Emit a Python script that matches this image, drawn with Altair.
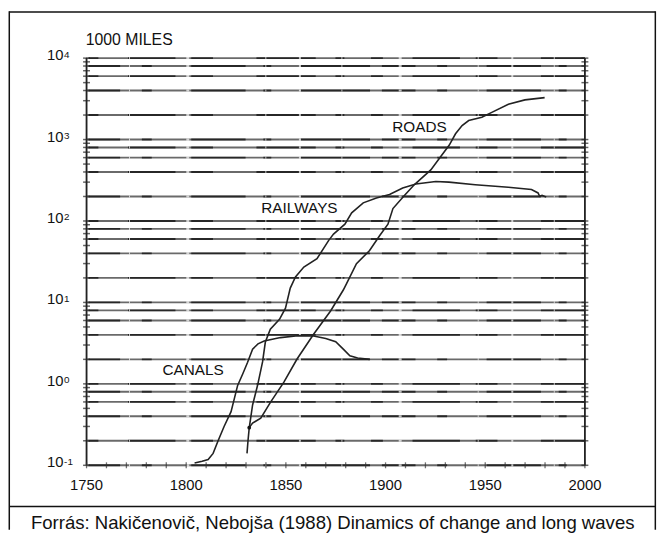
import altair as alt
import pandas as pd

# ---------------- data ----------------
canal_years = [1804.2, 1808, 1811, 1813.5, 1815.9, 1819, 1822.5, 1825.8, 1828.5, 1830.8,
               1833.3, 1836, 1839.1, 1847.3, 1856, 1863.9, 1870, 1875, 1878.8, 1882.1,
               1886, 1892]
canal_vals = [0.107, 0.112, 0.118, 0.14, 0.197, 0.3, 0.456, 0.957, 1.35, 1.84,
              2.67, 3.1, 3.36, 3.7, 3.9, 3.87, 3.6, 3.3, 2.67, 2.21,
              2.08, 2.0]

rail_years = [1830.5, 1831.0, 1831.6, 1833.3, 1835.8, 1838.3, 1839.7, 1842.2, 1846.8, 1849.8,
              1852.2, 1854.8, 1859, 1865.6, 1871.4, 1873.9, 1879.6, 1883, 1888.8, 1895.4,
              1902, 1908.6, 1915.2, 1925.2, 1931.8, 1945, 1961.6, 1973.2, 1976.5, 1977.3,
              1978.5, 1980.6]
rail_vals = [0.14, 0.2, 0.286, 0.55, 0.96, 1.86, 3.26, 4.7, 6.2, 8.5,
             15, 20.6, 27.2, 34.4, 57.4, 69, 91.5, 126, 167, 192,
             211, 254, 284, 306, 300, 279, 259, 243, 221, 201,
             206, 197]

road_years = [1831.6, 1833.3, 1837.4, 1842.4, 1849, 1855.6, 1863.9, 1872.5, 1878.8, 1880.5,
              1885.4, 1892, 1897, 1901.2, 1903.7, 1909, 1914.5, 1922.7, 1927.6, 1931.9,
              1935.1, 1938.4, 1941.7, 1948.3, 1953.3, 1961.6, 1969.9, 1979.8]
road_vals = [0.29, 0.33, 0.38, 0.6, 1.05, 2.02, 4.06, 7.9, 14.2, 17.1,
             29.9, 43.4, 65.9, 91.5, 142, 200, 280, 424, 614, 851,
             1178, 1486, 1710, 1876, 2158, 2718, 3069, 3273]

grid_vals = [0.1, 0.2, 0.4, 0.6, 0.8, 1, 2, 4, 6, 8, 10, 20, 40, 60, 80,
             100, 200, 400, 600, 800, 1000, 2000, 4000, 6000, 8000, 10000]

ytick_vals = [0.1, 0.2, 0.3, 0.4, 0.5, 0.6, 0.7, 0.8, 0.9,
              1, 2, 3, 4, 5, 6, 7, 8, 9,
              10, 20, 30, 40, 50, 60, 70, 80, 90,
              100, 200, 300, 400, 500, 600, 700, 800, 900,
              1000, 2000, 3000, 4000, 5000, 6000, 7000, 8000, 9000, 10000]

xtick_years = [1750, 1760, 1770, 1780, 1790, 1800, 1810, 1820, 1830, 1840, 1850, 1860, 1870,
               1880, 1890, 1900, 1910, 1920, 1930, 1940, 1950, 1960, 1970, 1980, 1990, 2000]

xlabel_years = [1750, 1800, 1850, 1900, 1950, 2000]
decade_vals = [0.1, 1, 10, 100, 1000, 10000]
decade_exps = ["-1", "0", "1", "2", "3", "4"]

series_names = ["ROADS", "RAILWAYS", "CANALS"]
name_years = [1917, 1856.8, 1803.5]
name_vals = [1413, 144, 1.47]

unit_text = "1000 MILES"
caption = "Forrás: Nakičenovič, Nebojša (1988) Dinamics of change and long waves"

FONT = "Liberation Sans"

# ---------------- tables ----------------
curves = pd.concat([
    pd.DataFrame({"year": canal_years, "v": canal_vals, "s": "canals"}),
    pd.DataFrame({"year": rail_years, "v": rail_vals, "s": "railways"}),
    pd.DataFrame({"year": road_years, "v": road_vals, "s": "roads"}),
], ignore_index=True)
grid = pd.DataFrame({"v": grid_vals, "row": list(range(len(grid_vals)))})
grid["x0"] = 1750
grid["x1"] = 2000
yticks = pd.DataFrame({"v": ytick_vals})
yticks["xl"] = 1750
yticks["xr"] = 2000
xticks = pd.DataFrame({"year": xtick_years})
xticks["v"] = 0.1
xlabels = pd.DataFrame({"year": xlabel_years, "t": [str(y) for y in xlabel_years]})
ylabels = pd.DataFrame({"v": decade_vals, "e": decade_exps})
names = pd.DataFrame({"year": name_years, "v": name_vals, "t": series_names})
start_dot = pd.DataFrame({"year": [road_years[0]], "v": [road_vals[0]]})
frame = pd.DataFrame({"year": [1750, 2000], "v0": [0.1, 0.1], "v1": [10000, 10000]})
one = pd.DataFrame({"k": [0]})

# plot area 504.5 x 412.2, placed by padding inside a 658 x 525 canvas
PW, PH = 504.5, 412.2
PAD = {"left": 79.5, "top": 47.5, "right": 74, "bottom": 65.3}
xs = alt.Scale(domain=[1750, 2000], nice=False, zero=False)
ys = alt.Scale(type="log", domain=[0.1, 10000], nice=False)


def X(f):
    return alt.X(f, scale=xs, axis=None)


def Y(f):
    return alt.Y(f, scale=ys, axis=None)


def grid_layer(color, width, opacity, dash=None, parity=None):
    kw = dict(color=color, strokeWidth=width, opacity=opacity)
    if dash is not None:
        kw["strokeDash"] = dash
    c = alt.Chart(grid)
    if parity is not None:
        c = c.transform_filter(f"datum.row % 2 == {parity}")
    return c.mark_rule(**kw).encode(x=X("x0:Q"), x2="x1:Q", y=Y("v:Q"))


base_grid = grid_layer("#6a6a6a", 1.9, 1)
grid_a = grid_layer("#111", 1.9, 0.75, [34, 22, 10, 40, 55, 18, 8, 30, 70, 12], 0)
grid_b = grid_layer("#111", 1.9, 0.75, [12, 30, 48, 16, 22, 44, 60, 20, 9, 27], 1)
gaps = grid_layer("white", 2.2, 0.7, [2, 41, 1, 57, 3, 77, 1, 33])

frame_lr = alt.Chart(frame).mark_rule(color="#222", strokeWidth=1.8).encode(
    x=X("year:Q"), y=Y("v0:Q"), y2="v1:Q")

ticks_l = alt.Chart(yticks).mark_tick(orient="horizontal", size=7, thickness=1.5, color="#222").encode(
    x=X("xl:Q"), y=Y("v:Q"))
ticks_r = alt.Chart(yticks).mark_tick(orient="horizontal", size=7, thickness=1.5, color="#222").encode(
    x=X("xr:Q"), y=Y("v:Q"))
ticks_b = alt.Chart(xticks).mark_tick(orient="vertical", size=6, thickness=1.3, color="#333").encode(
    x=X("year:Q"), y=Y("v:Q"))

lines = alt.Chart(curves).mark_line(color="#222", strokeWidth=1.6).encode(
    x=X("year:Q"), y=Y("v:Q"), detail="s:N")

dot = alt.Chart(start_dot).mark_circle(color="#111", size=14, opacity=1).encode(
    x=X("year:Q"), y=Y("v:Q"))

name_txt = alt.Chart(names).mark_text(font=FONT, fontSize=15.5, color="#111", align="center",
                                      baseline="middle").encode(
    x=X("year:Q"), y=Y("v:Q"), text="t:N")

xlab = alt.Chart(xlabels).mark_text(font=FONT, fontSize=15, color="#111", align="center",
                                    baseline="alphabetic").encode(
    x=X("year:Q"), y=alt.value(437.5), text="t:N")

ylab10 = alt.Chart(ylabels).mark_text(font=FONT, fontSize=15, color="#111", align="left",
                                      baseline="alphabetic", dy=2, text="10").encode(
    x=alt.value(-40), y=Y("v:Q"))
ylabexp = alt.Chart(ylabels).mark_text(font=FONT, fontSize=10, color="#111", align="left",
                                       baseline="alphabetic", dy=-0.5).encode(
    x=alt.value(-22.7), y=Y("v:Q"), text="e:N")

unit = alt.Chart(one).mark_text(font=FONT, fontSize=16, color="#111", align="left",
                                baseline="alphabetic", text=unit_text).encode(
    x=alt.value(-0.8), y=alt.value(-13))

cap = alt.Chart(one).mark_text(font=FONT, fontSize=18.8, color="#111", align="center",
                               baseline="alphabetic", text=caption).encode(
    x=alt.value(249.2), y=alt.value(477))

box_top = alt.Chart(one).mark_rule(color="#111", strokeWidth=1.5).encode(
    x=alt.value(-78.2), x2=alt.value(575.8), y=alt.value(-46.7))
box_sep = alt.Chart(one).mark_rule(color="#111", strokeWidth=1.5).encode(
    x=alt.value(-78.2), x2=alt.value(575.8), y=alt.value(453.8))
box_l = alt.Chart(one).mark_rule(color="#111", strokeWidth=1.5).encode(
    x=alt.value(-78.2), y=alt.value(-47.5), y2=alt.value(477.5))
box_r = alt.Chart(one).mark_rule(color="#111", strokeWidth=1.5).encode(
    x=alt.value(575.8), y=alt.value(-47.5), y2=alt.value(477.5))

chart = alt.layer(
    base_grid, grid_a, grid_b, gaps, frame_lr, ticks_l, ticks_r, ticks_b,
    lines, dot, name_txt, xlab, ylab10, ylabexp, unit, cap,
    box_top, box_sep, box_l, box_r,
).properties(
    width=PW, height=PH,
    autosize=alt.AutoSizeParams(type="none"),
    padding=PAD,
).configure_view(stroke=None).configure(background="white")

chart.save("out.html", embed_options={"renderer": "svg", "actions": False})
